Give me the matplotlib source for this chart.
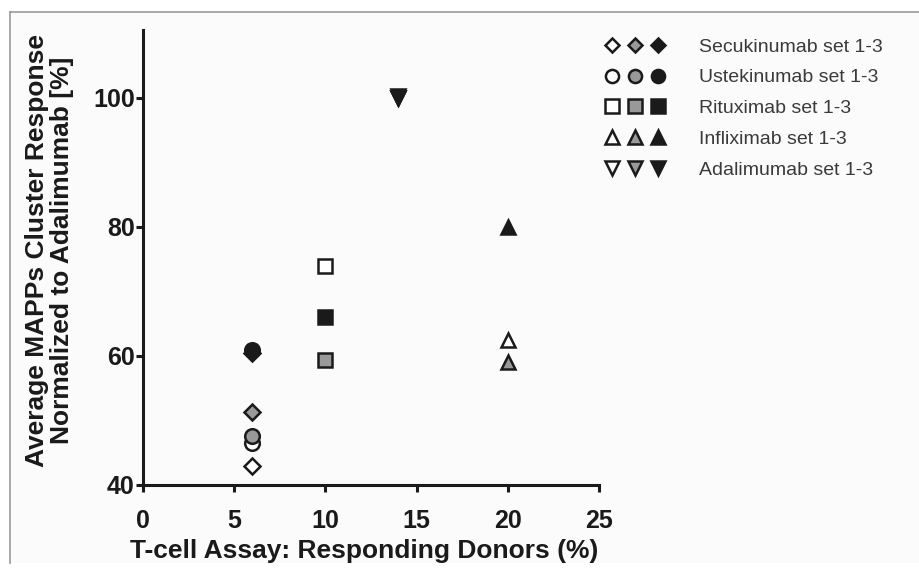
import matplotlib.pyplot as plt
from matplotlib.lines import Line2D
from matplotlib.legend_handler import HandlerTuple
from matplotlib.patches import Rectangle

plt.rcParams['font.family'] = ['Liberation Sans', 'DejaVu Sans']

# responding donors (%) per antibody, and MAPPs response for sets 1-3
drugs = ["Secukinumab", "Ustekinumab", "Rituximab", "Infliximab", "Adalimumab"]
donors = [6, 6, 10, 20, 14]
set1 = [42.9, 46.5, 74.0, 62.4, 100.0]
set2 = [51.3, 47.6, 59.4, 59.1, 100.0]
set3 = [60.5, 60.9, 66.0, 80.0, 100.3]

markers = ["D", "o", "s", "^", "v"]
msizes = [8, 10.5, 10.5, 10.5, 10.5]
faces = ["white", "#999999", "#1a1a1a"]

fig = plt.figure(figsize=(9.19, 5.76), dpi=100)
# light panel with a thin grey frame, as in the scanned figure
fig.patches.append(Rectangle((10 / 919, 1 - 563 / 576), 1.0, (563 - 12) / 576,
                             transform=fig.transFigure, facecolor="#fbfbfb",
                             edgecolor="none", zorder=-10))
fig.lines.append(Line2D([10 / 919, 1.0], [1 - 12 / 576] * 2, transform=fig.transFigure,
                        color="#999999", lw=1.2))
fig.lines.append(Line2D([10 / 919] * 2, [1 - 12 / 576, 1 - 563 / 576], transform=fig.transFigure,
                        color="#999999", lw=1.2))

ax = fig.add_axes([143 / 919, 1 - 485 / 576, 456 / 919, 455 / 576])
ax.set_facecolor("none")

handles = []
for i, name in enumerate(drugs):
    row = []
    for vals, fc in zip([set1, set2, set3], faces):
        h, = ax.plot([donors[i]], [vals[i]], linestyle="none", marker=markers[i],
                     markersize=msizes[i], markerfacecolor=fc, markeredgecolor="#1a1a1a",
                     markeredgewidth=1.8, clip_on=False, zorder=3)
        row.append(h)
    handles.append(tuple(row))

ax.set_xlim(0, 25)
ax.set_ylim(40, 110.5)
ax.set_xticks([0, 5, 10, 15, 20, 25])
ax.set_yticks([40, 60, 80, 100])
for s in ["top", "right"]:
    ax.spines[s].set_visible(False)
for s in ["left", "bottom"]:
    ax.spines[s].set_linewidth(2.2)
    ax.spines[s].set_color("#1a1a1a")
ax.tick_params(length=5, width=2.2, color="#1a1a1a", labelsize=18,
               labelcolor="#1a1a1a")
ax.tick_params(axis="x", pad=12)
ax.tick_params(axis="y", pad=1)
for lab in ax.get_xticklabels() + ax.get_yticklabels():
    lab.set_fontweight("bold")

ax.set_xlabel("T-cell Assay: Responding Donors (%)", fontsize=19, fontweight="bold",
              color="#1a1a1a")
ax.xaxis.set_label_coords(0.485, -0.118)
ax.set_ylabel("Average MAPPs Cluster Response\nNormalized to Adalimumab [%]",
              fontsize=19, fontweight="bold", color="#1a1a1a", linespacing=1.05)
ax.yaxis.set_label_coords(-0.152, 0.515)

leg = fig.legend(handles, [d + " set 1-3" for d in drugs],
                 handler_map={tuple: HandlerTuple(ndivide=None, pad=0.3)},
                 loc="upper left", bbox_to_anchor=(604 / 919, 1 - 38 / 576),
                 frameon=False, fontsize=14, handlelength=3.2, handletextpad=1.7,
                 labelspacing=0.68, borderpad=0, borderaxespad=0, markerscale=0.9)
for t in leg.get_texts():
    t.set_color("#3a3a3a")

fig.savefig("out.png", dpi=100)
